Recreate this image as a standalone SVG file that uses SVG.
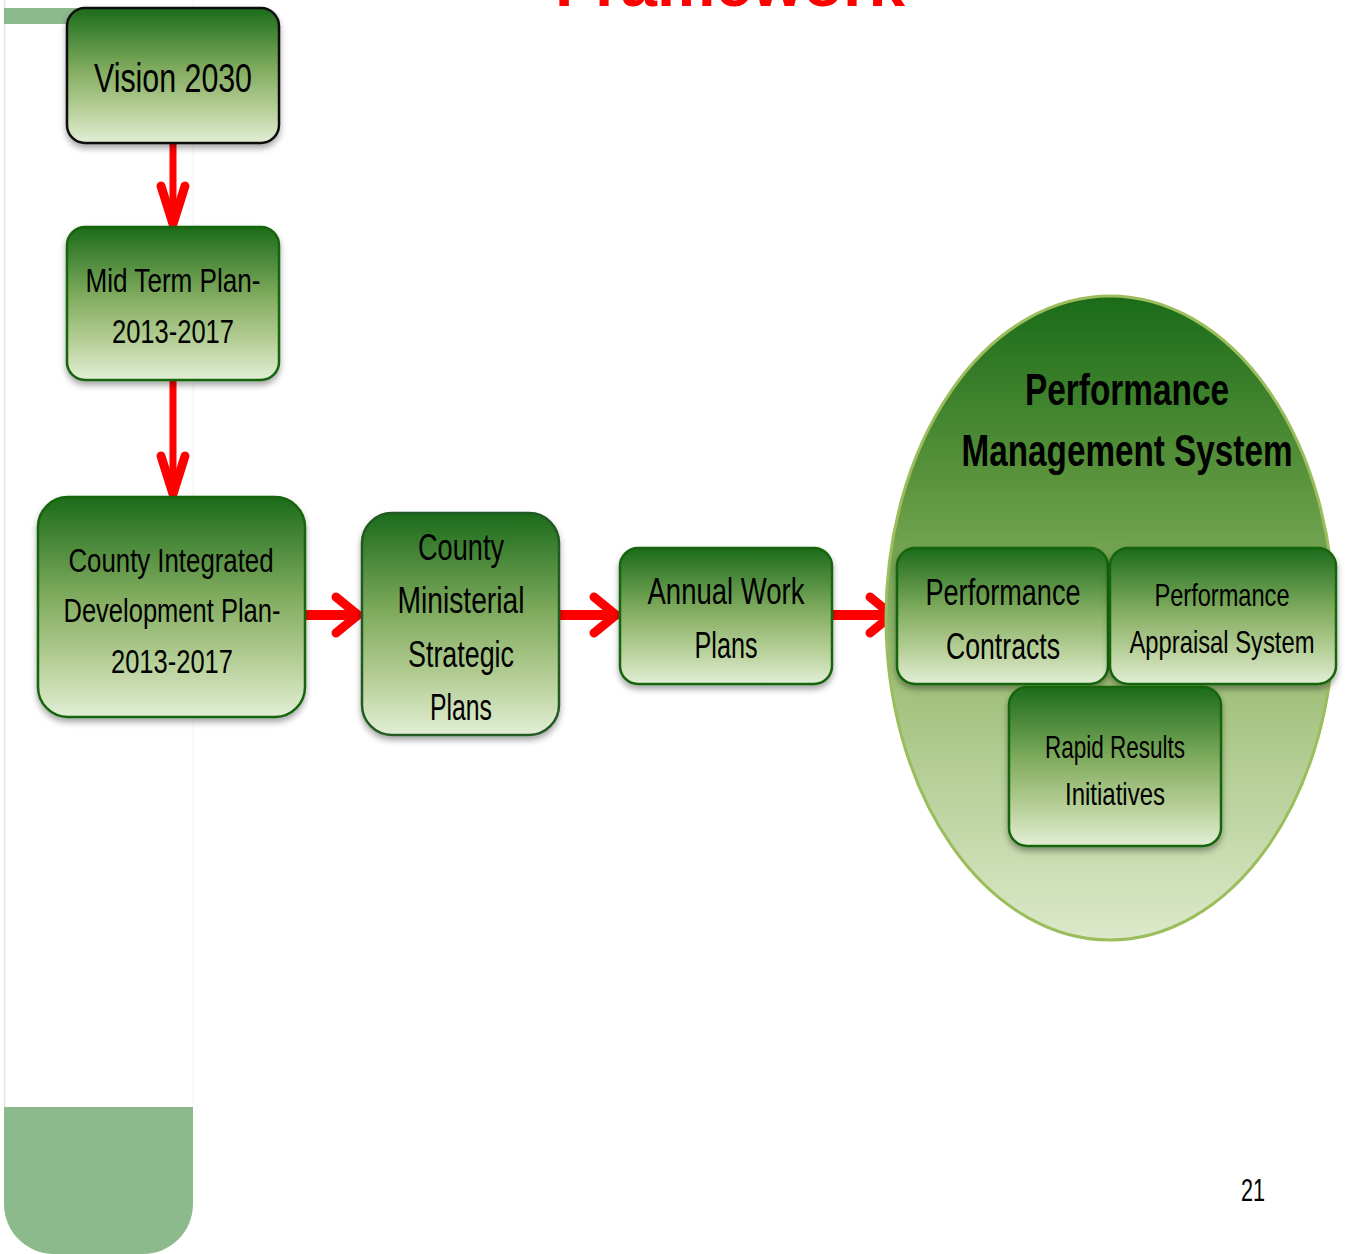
<svg xmlns="http://www.w3.org/2000/svg" width="1345" height="1254" viewBox="0 0 1345 1254">
<defs>
<linearGradient id="boxg" x1="0" y1="0" x2="0" y2="1">
<stop offset="0" stop-color="#1b6b1b"/>
<stop offset="0.45" stop-color="#80ab5e"/>
<stop offset="0.75" stop-color="#b6cf97"/>
<stop offset="1" stop-color="#e2eed6"/>
</linearGradient>
<linearGradient id="circg" x1="0" y1="0" x2="0" y2="1">
<stop offset="0" stop-color="#1a6b18"/>
<stop offset="0.3" stop-color="#5e963f"/>
<stop offset="0.6" stop-color="#9fc079"/>
<stop offset="1" stop-color="#dde9cb"/>
</linearGradient>
<filter id="sh" x="-10%" y="-10%" width="120%" height="125%">
<feDropShadow dx="0" dy="4" stdDeviation="3" flood-color="#000" flood-opacity="0.35"/>
</filter>
</defs>
<style>
.box{fill:url(#boxg);stroke:#17650f;stroke-width:2.5;filter:url(#sh)}
.t{font-family:"Liberation Sans","DejaVu Sans",sans-serif;fill:#000;text-anchor:middle}
.arr{fill:none;stroke:#ff0000;stroke-linecap:round;stroke-linejoin:round}
</style>
<rect width="1345" height="1254" fill="#ffffff"/>
<!-- background decorations -->
<g id="decor">
<line x1="4.5" y1="0" x2="4.5" y2="1107" stroke="#dfe8df" stroke-width="1.5"/>
<line x1="193" y1="0" x2="193" y2="1107" stroke="#f2f2f2" stroke-width="1"/>
<rect x="4" y="8" width="80" height="16" fill="#8cba8c"/>
<path d="M4 1107 H193 V1204 A50 50 0 0 1 143 1254 H54 A50 50 0 0 1 4 1204 Z" fill="#8cba8c"/>
<text x="730" y="6" font-family="'Liberation Sans',sans-serif" font-weight="bold" font-size="64" fill="#ff0000" text-anchor="middle" textLength="350" lengthAdjust="spacingAndGlyphs">Framework</text>
</g>
<g id="connectors">
<path class="arr" stroke-width="7" d="M173 143 V222"/>
<path class="arr" stroke-width="9" d="M161 186 L173 224 L185 186"/>
<path class="arr" stroke-width="7" d="M173 380 V494"/>
<path class="arr" stroke-width="9" d="M161 456 L173 494 L185 456"/>
<path class="arr" stroke-width="10" d="M305 615 H357"/>
<path class="arr" stroke-width="9" d="M336 597 L358 615 L336 633"/>
<path class="arr" stroke-width="10" d="M559 615 H615"/>
<path class="arr" stroke-width="9" d="M594 597 L616 615 L594 633"/>
<path class="arr" stroke-width="10" d="M832 615 H891"/>
<path class="arr" stroke-width="9" d="M870 597 L892 615 L870 633"/>
</g>
<g id="vision">
<rect class="box" x="67" y="8" width="212" height="135" rx="18" style="stroke:#111;"/>
<text class="t" x="173" y="92" font-size="40" textLength="158" lengthAdjust="spacingAndGlyphs">Vision 2030</text>
</g>
<g id="midterm">
<rect class="box" x="67" y="227" width="212" height="153" rx="18"/>
<text class="t" x="173" y="292" font-size="34" textLength="175" lengthAdjust="spacingAndGlyphs">Mid Term Plan-</text>
<text class="t" x="173" y="343" font-size="34" textLength="122" lengthAdjust="spacingAndGlyphs">2013-2017</text>
</g>
<g id="cidp">
<rect class="box" x="38" y="497" width="267" height="220" rx="30"/>
<text class="t" x="171" y="572" font-size="34" textLength="205" lengthAdjust="spacingAndGlyphs">County Integrated</text>
<text class="t" x="172" y="622" font-size="34" textLength="217" lengthAdjust="spacingAndGlyphs">Development Plan-</text>
<text class="t" x="172" y="673" font-size="34" textLength="122" lengthAdjust="spacingAndGlyphs">2013-2017</text>
</g>
<g id="ministerial">
<rect class="box" x="362" y="513" width="197" height="222" rx="30" style="stroke:#245a24;"/>
<text class="t" x="461" y="560" font-size="37" textLength="86" lengthAdjust="spacingAndGlyphs">County</text>
<text class="t" x="461" y="613" font-size="37" textLength="127" lengthAdjust="spacingAndGlyphs">Ministerial</text>
<text class="t" x="461" y="667" font-size="37" textLength="106" lengthAdjust="spacingAndGlyphs">Strategic</text>
<text class="t" x="461" y="720" font-size="37" textLength="62" lengthAdjust="spacingAndGlyphs">Plans</text>
</g>
<g id="annual">
<rect class="box" x="620" y="548" width="212" height="136" rx="18"/>
<text class="t" x="726" y="604" font-size="37" textLength="157" lengthAdjust="spacingAndGlyphs">Annual Work</text>
<text class="t" x="726" y="658" font-size="37" textLength="63" lengthAdjust="spacingAndGlyphs">Plans</text>
</g>
<g id="pms">
<ellipse cx="1110" cy="618" rx="224" ry="322" fill="url(#circg)" stroke="#9bbd5c" stroke-width="3"/>
<text class="t" x="1127" y="405" font-size="44" font-weight="bold" textLength="204" lengthAdjust="spacingAndGlyphs">Performance</text>
<text class="t" x="1127" y="466" font-size="44" font-weight="bold" textLength="331" lengthAdjust="spacingAndGlyphs">Management System</text>
</g>
<g id="contracts">
<rect class="box" x="897" y="548" width="211" height="136" rx="18"/>
<text class="t" x="1003" y="605" font-size="37" textLength="155" lengthAdjust="spacingAndGlyphs">Performance</text>
<text class="t" x="1003" y="659" font-size="37" textLength="114" lengthAdjust="spacingAndGlyphs">Contracts</text>
</g>
<g id="appraisal">
<rect class="box" x="1110" y="548" width="226" height="136" rx="18"/>
<text class="t" x="1222" y="606" font-size="32" textLength="135" lengthAdjust="spacingAndGlyphs">Performance</text>
<text class="t" x="1222" y="653" font-size="32" textLength="185" lengthAdjust="spacingAndGlyphs">Appraisal  System</text>
</g>
<g id="rapid">
<rect class="box" x="1009" y="687" width="212" height="159" rx="18"/>
<text class="t" x="1115" y="758" font-size="32" textLength="140" lengthAdjust="spacingAndGlyphs">Rapid Results</text>
<text class="t" x="1115" y="805" font-size="32" textLength="100" lengthAdjust="spacingAndGlyphs">Initiatives</text>
</g>
<text class="t" x="1253" y="1201" font-size="31" textLength="24" lengthAdjust="spacingAndGlyphs">21</text>
</svg>
